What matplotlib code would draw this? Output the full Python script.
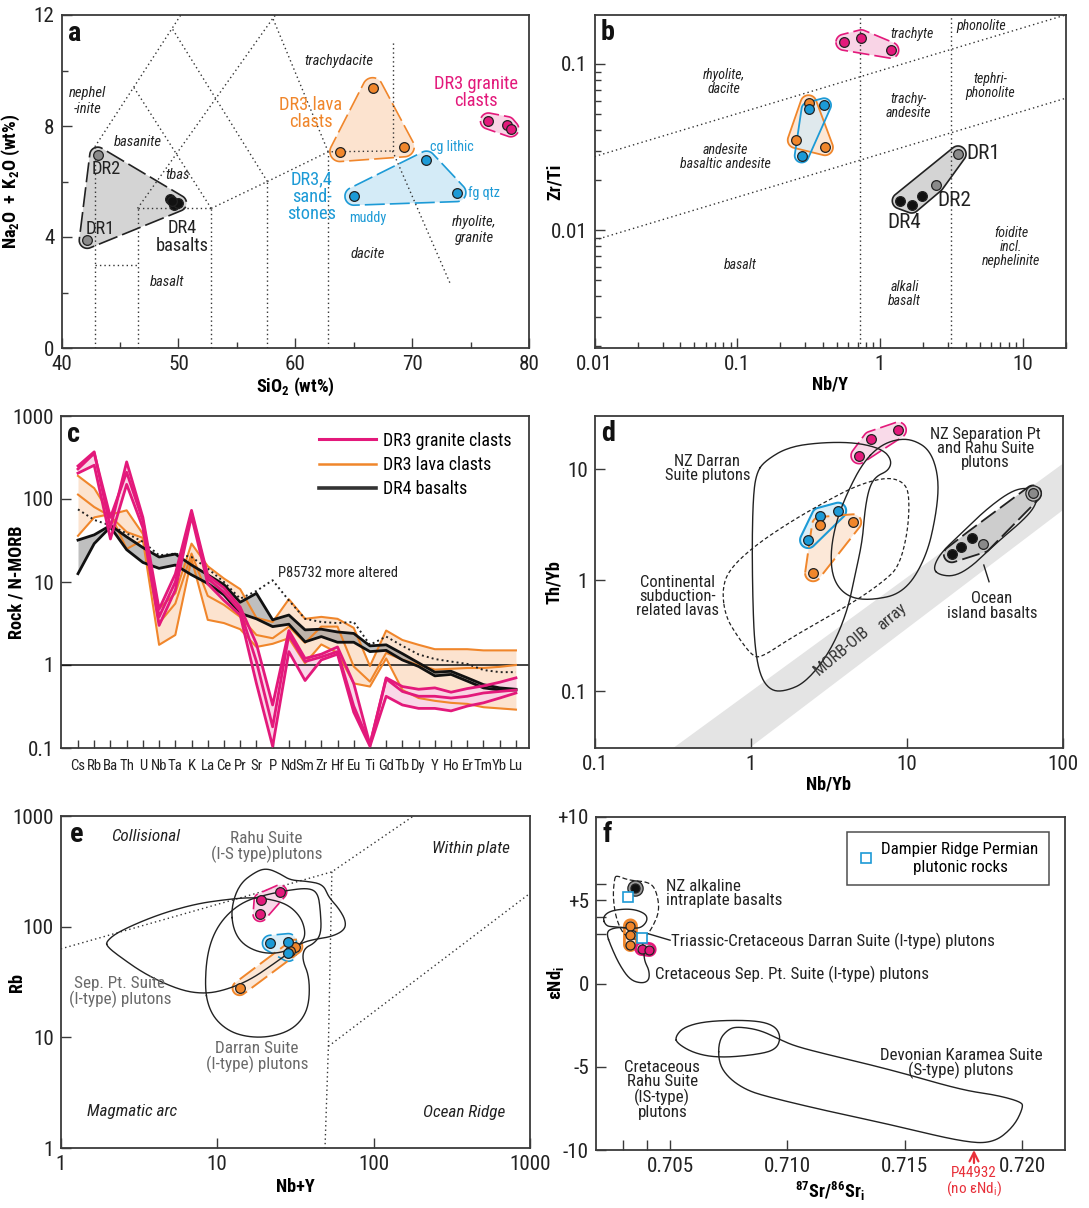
import numpy as np
import matplotlib
matplotlib.use("Agg")
import matplotlib.pyplot as plt
from matplotlib.patches import Polygon
from matplotlib.lines import Line2D
from matplotlib.ticker import LogLocator, NullFormatter, FixedLocator
from matplotlib import font_manager as fm
from matplotlib.textpath import TextPath

# ---------- font choice: prefer a narrow / condensed sans ----------
_names = {f.name for f in fm.fontManager.ttflist}
FAM, STRETCH = None, 'normal'
for cand in ['Liberation Sans Narrow', 'Roboto Condensed', 'Noto Sans Condensed',
             'Open Sans Condensed', 'Noto Sans SemiCondensed', 'Arial Narrow']:
    if cand in _names:
        FAM = cand
        break
if FAM is None:
    for fam in ['DejaVu Sans', 'Noto Sans', 'Roboto', 'Open Sans']:
        if any(f.name == fam and 'condensed' in str(f.stretch).lower() for f in fm.fontManager.ttflist):
            FAM, STRETCH = fam, 'condensed'
            break
if FAM is None:
    FAM = 'Roboto' if 'Roboto' in _names else 'Liberation Sans'

plt.rcParams['font.family'] = [FAM, 'DejaVu Sans']
plt.rcParams['font.stretch'] = STRETCH
plt.rcParams['mathtext.fontset'] = 'custom'
plt.rcParams['mathtext.rm'] = FAM
plt.rcParams['mathtext.bf'] = FAM + ':bold'
plt.rcParams['mathtext.it'] = FAM + ':italic'
plt.rcParams['axes.unicode_minus'] = False


def fit(s, px, weight='normal', style='normal'):
    fp = fm.FontProperties(family=[FAM, 'DejaVu Sans'], stretch=STRETCH, weight=weight,
                           style=style, size=10)
    w = TextPath((0, 0), s, prop=fp).get_extents().width
    return 10 * px / (w * 100 / 72)


S_TICK = fit('1000', 36) * 1.08
S_AXL = fit('Rock / N-MORB', 112, weight='bold')
S_LET = S_AXL * 1.55
S_IT = fit('trachydacite', 68, style='italic')
S_ABIG = fit('DR3 granite', 82)
S_ASM = fit('cg lithic', 43)
S_BIT = fit('basaltic andesite', 90, style='italic')
S_BDR = fit('DR1', 28.5)
S_LEG = fit('DR3 granite clasts', 126)
S_ANN = fit('P85732 more altered', 118)
S_ELEM = fit('Sm', 15) * 1.15
S_D = fit('Suite plutons', 84)
S_MORB = fit('MORB-OIB', 65)
S_EIT = fit('Collisional', 68, style='italic')
S_EGR = fit('Rahu Suite', 70)
S_F = fit('Triassic-Cretaceous Darran Suite (I-type) plutons', 321)
S_FLEG = fit('Dampier Ridge Permian', 155)
S_RED = fit('P44932', 44)

PINK = '#e3197b'
ORANGE = '#f0862b'
BLUE = '#1c9ad6'
GRAYF = '#d4d4d4'
RED = '#e8303a'
TXT = '#222222'

# ======================= DATA =======================
# ---- (a) TAS ----
a_dr1_sio2 = [42.2];  a_dr1_alk = [3.88]
a_dr2_sio2 = [43.1];  a_dr2_alk = [6.95]
a_dr4_sio2 = [49.3, 49.6, 50.0, 49.45]; a_dr4_alk = [5.38, 5.15, 5.22, 5.28]
a_lava_sio2 = [63.8, 66.6, 69.3]; a_lava_alk = [7.08, 9.38, 7.25]
a_gran_sio2 = [76.5, 78.1, 78.4]; a_gran_alk = [8.18, 8.05, 7.9]
a_sand_sio2 = [65.0, 71.2, 73.8]; a_sand_alk = [5.47, 6.77, 5.6]
tas_boundaries = [
    [(42.85, 0), (42.85, 7.25)],
    [(42.85, 3.0), (46.5, 3.0)],
    [(46.5, 0), (46.5, 5.03)],
    [(46.5, 5.03), (52.8, 5.03)],
    [(52.8, 0), (52.8, 5.03)],
    [(57.6, 0), (57.6, 6.0)],
    [(62.8, 0), (62.8, 7.07)],
    [(52.8, 5.03), (57.6, 6.0), (62.8, 7.07), (68.3, 7.1)],
    [(68.3, 7.1), (68.3, 11.05)],
    [(68.3, 7.1), (73.2, 2.35)],
    [(42.85, 7.25), (50.2, 12.0)],
    [(46.5, 5.03), (58.07, 11.88), (58.3, 12.0)],
    [(52.8, 5.03), (46.17, 9.4)],
    [(57.6, 6.0), (49.45, 11.52)],
    [(62.8, 7.07), (58.07, 11.88)],
]

# ---- (b) Zr/Ti vs Nb/Y ----
b_gran_nby = [0.56, 0.74, 1.19];  b_gran_zrti = [0.135, 0.1435, 0.121]
b_lava_nby = [0.316, 0.257, 0.412]; b_lava_zrti = [0.058, 0.0348, 0.0315]
b_sand_nby = [0.316, 0.406, 0.283]; b_sand_zrti = [0.0533, 0.0564, 0.0281]
b_dr4_nby = [1.39, 1.67, 1.97];   b_dr4_zrti = [0.0150, 0.01415, 0.0160]
b_dr12_nby = [3.53, 2.47];        b_dr12_zrti = [0.0287, 0.0188]
b_vert_nby = [0.72, 3.16]
b_diag_nby = [0.01, 20]
b_diag_upper = [0.0277, 0.197]
b_diag_lower = [0.0087, 0.0621]

# ---- (c) N-MORB normalised spider diagram ----
elements = ['Cs', 'Rb', 'Ba', 'Th', 'U', 'Nb', 'Ta', 'K', 'La', 'Ce', 'Pr', 'Sr', 'P', 'Nd',
            'Sm', 'Zr', 'Hf', 'Eu', 'Ti', 'Gd', 'Tb', 'Dy', 'Y', 'Ho', 'Er', 'Tm', 'Yb', 'Lu']
granite_1 = [250, 370, 45, 280, 60, 4.7, 12.5, 73, 12, 8.5, 5.0, 1.8, 0.33, 2.6, 1.2, 1.35, 1.65,
             0.6, 0.11, 0.7, 0.55, 0.51, 0.53, 0.47, 0.52, 0.56, 0.62, 0.7]
granite_2 = [230, 355, 60, 210, 55, 3.8, 10, 68, 11, 7.5, 4.5, 1.1, 0.18, 2.3, 1.1, 1.25, 1.45,
             0.32, 0.11, 0.68, 0.48, 0.42, 0.42, 0.40, 0.42, 0.46, 0.48, 0.5]
granite_3 = [205, 255, 33, 150, 45, 3.0, 8, 62, 9.5, 6.0, 4.0, 0.6, 0.105, 1.45, 0.65, 1.15, 1.35,
             0.27, 0.105, 0.42, 0.33, 0.3, 0.3, 0.28, 0.32, 0.35, 0.4, 0.46]
lava_1 = [190, 135, 65, 73, 38, 4.8, 7.3, 29, 15.5, 11, 8.2, 3.7, 3.3, 6.2, 3.6, 3.8, 3.6,
          2.8, 0.97, 2.6, 2.0, 1.75, 1.55, 1.55, 1.55, 1.5, 1.5, 1.5]
lava_2 = [113, 80, 62, 40, 34, 3.2, 5.5, 22, 6.8, 5.3, 3.8, 2.3, 2.1, 2.9, 1.85, 2.9, 2.9,
          0.96, 0.63, 1.4, 1.16, 1.0, 0.88, 0.9, 0.92, 0.92, 0.95, 1.0]
lava_3 = [36, 60, 66, 25, 32, 1.75, 2.3, 19, 3.5, 3.2, 2.7, 1.65, 1.8, 2.1, 1.05, 1.77, 1.4,
          0.6, 0.55, 1.2, 0.5, 0.4, 0.37, 0.35, 0.34, 0.31, 0.3, 0.29]
basalt_hi = [32, 37, 48, 35, 26, 20, 21.7, 16, 12.2, 9.3, 5.7, 7.3, 3.5, 4.0, 2.65, 2.7, 2.5,
             2.4, 1.7, 1.75, 1.37, 1.06, 0.82, 0.84, 0.7, 0.58, 0.53, 0.51]
basalt_lo = [12.6, 29, 46, 24.5, 17.2, 14.6, 16, 12.2, 9.6, 7.0, 4.2, 3.6, 2.9, 3.1, 1.9, 2.2, 1.88,
             1.88, 1.45, 1.5, 1.15, 0.96, 0.74, 0.77, 0.64, 0.53, 0.5, 0.5]
p85732 = [75, 56, 48, 38.5, 30.5, 21, 22, 20, 14.5, 10, 6.3, 7.8, 10.5, 6.0, 3.6, 3.3, 3.2,
          3.3, 1.75, 2.2, 1.7, 1.34, 1.18, 1.1, 1.03, 0.87, 0.82, 0.82]

# ---- (d) Th/Yb vs Nb/Yb ----
d_gran_nbyb = [4.94, 5.9, 8.8];   d_gran_thyb = [13.2, 18.5, 22.4]
d_sand_nbyb = [2.33, 2.77, 3.63]; d_sand_thyb = [2.30, 3.81, 4.22]
d_lava_nbyb = [2.78, 4.53, 2.51]; d_lava_thyb = [3.14, 3.32, 1.156]
d_dr4_nbyb = [19.4, 22.3, 26.3];  d_dr4_thyb = [1.71, 1.98, 2.38]
d_dr12_nbyb = [30.7, 64.4];       d_dr12_thyb = [2.10, 6.04]
array_nbyb = [0.319, 100, 100, 0.98]
array_thyb = [0.031, 11.2, 4.28, 0.031]
darran_d_nbyb = [1.21, 1.73, 2.88, 4.81, 7.06, 8.02, 7.62, 6.37, 5.75, 5.38, 5.2, 4.69, 4.13, 3.19,
                 2.23, 1.64, 1.34, 1.15, 1.06, 1.03, 1.02, 1.04, 1.09]
darran_d_thyb = [11.6, 15.8, 17.4, 17.3, 15.0, 11.9, 9.66, 8.65, 6.93, 4.29, 2.3, 1.16, 0.506, 0.221,
                 0.119, 0.1, 0.102, 0.136, 0.254, 0.665, 2.3, 6.04, 9.14]
seppt_d_nbyb = [5.2, 4.23, 3.54, 3.23, 3.37, 4.13, 5.75, 9.6, 13.4, 15.6, 16.0, 14.1, 10.9, 8.45, 6.55]
seppt_d_thyb = [11.2, 6.48, 3.48, 1.75, 1.0, 0.713, 0.656, 0.764, 1.63, 4.29, 8.53, 14.8, 18.5, 18.5, 15.8]
contl_d_nbyb = [0.655, 0.724, 1.04, 1.73, 2.88, 4.81, 7.62, 9.85, 10.4, 10.1, 8.89, 7.24, 4.81, 2.88,
                1.73, 1.15, 1.01, 0.824, 0.689]
contl_d_thyb = [0.818, 1.24, 2.0, 3.25, 4.92, 7.18, 8.53, 7.43, 5.27, 2.64, 1.33, 1.0, 0.665, 0.441,
                0.291, 0.199, 0.213, 0.312, 0.472]
oib_d_nbyb = [14.7, 16.4, 22.3, 31.9, 45.7, 57.5, 67.1, 68.1, 57.5, 37.2, 26.1, 20.1, 16.0]
oib_d_thyb = [1.28, 1.75, 2.64, 4.29, 6.25, 6.84, 6.25, 4.92, 3.6, 2.15, 1.33, 1.08, 1.12]
oib_leader_nbyb = [31.1, 33.6]; oib_leader_thyb = [1.37, 0.97]

# ---- (e) Rb vs Nb+Y ----
e_gran_nby = [19.1, 25.1, 18.8]; e_gran_rb = [174, 206, 129]
e_sand_nby = [21.9, 28.5, 28.5]; e_sand_rb = [70.8, 73.3, 57.5]
e_lava_nby = [13.9, 31.6, 29.0]; e_lava_rb = [27.8, 66, 60.8]
pearce_1_nby = [1, 54.1, 180];    pearce_1_rb = [63, 313, 1000]
pearce_2_nby = [54.1, 51.4, 48.9]; pearce_2_rb = [313, 8.3, 1]
pearce_3_nby = [51.4, 1000];       pearce_3_rb = [8.3, 200]
rahu_e_nby = [12.3, 13.9, 18.0, 21.0, 25.1, 29.3, 36.9, 47.6, 51.4, 60, 66.4, 65.4, 54.1, 41.9, 35.0,
              30.0, 23.3, 18.0, 14.3, 12.6]
rahu_e_rb = [151, 245, 320, 336, 302, 263, 258, 242, 186, 146, 113, 93.3, 81.3, 76.9, 71.8, 62.5,
             56.8, 59.2, 70.8, 96.6]
seppt_e_nby = [1.95, 2.33, 4.08, 7.17, 11.4, 16.3, 22.1, 28.6, 34.1, 36.5, 35.9, 31.6, 23.3, 16.3,
               11.4, 8.36, 5.84, 3.5, 2.33, 1.98]
seppt_e_rb = [73.3, 90.2, 127, 160, 176, 184, 177, 157, 123, 93.3, 75.9, 63.8, 46.8, 33.1, 26.9,
              24.7, 26.5, 36.7, 54.8, 66.1]
darran_e_nby = [8.36, 8.58, 9.5, 11.4, 14.7, 20.0, 28.6, 38.8, 44.1, 45.7, 46.4, 41.9, 35.9, 35.0,
                38.8, 38.8, 35.0, 28.6, 21.0, 15.5, 12.0, 9.75, 8.71]
darran_e_rb = [28.8, 53.7, 87.1, 127, 168, 193, 214, 224, 200, 141, 87.1, 70.8, 63.8, 50.1, 35.5,
               20.4, 14.4, 11.3, 10.0, 10.1, 11.3, 14.4, 19.7]

# ---- (f) eNd vs 87Sr/86Sr ----
f_dr4_sr = [0.70349];  f_dr4_nd = [5.76]
f_damp_sr = [0.70322, 0.70382]; f_damp_nd = [5.2, 2.76]
f_lava_sr = [0.70331, 0.70331, 0.70331]; f_lava_nd = [3.46, 2.9, 2.34]
f_gran_sr = [0.70379, 0.70411]; f_gran_nd = [2.1, 2.04]
alk_f_sr = [0.70271, 0.70322, 0.70411, 0.70441, 0.70456, 0.70426, 0.70396, 0.70367, 0.70308,
            0.70271, 0.70256, 0.70263]
alk_f_nd = [6.5, 6.2, 6.1, 5.6, 4.4, 3.4, 2.8, 2.6, 2.8, 3.8, 5.2, 6.3]
darran_f_sr = [0.70212, 0.70249, 0.70337, 0.70396, 0.70404, 0.70382, 0.70352, 0.70263, 0.70226]
darran_f_nd = [4.0, 4.4, 4.5, 4.2, 3.8, 3.4, 3.3, 3.4, 3.45]
seppt_f_sr = [0.70226, 0.70263, 0.70322, 0.70367, 0.70389, 0.70389, 0.70411, 0.70411, 0.70382,
              0.70330, 0.70285, 0.70249]
seppt_f_nd = [3.1, 3.36, 3.36, 3.0, 2.2, 1.4, 0.8, 0.2, 0.0, 0.2, 1.1, 2.2]
rahu_f_sr = [0.70522, 0.70559, 0.70663, 0.70855, 0.70944, 0.70973, 0.70951, 0.70855, 0.70707,
             0.70604, 0.7053]
rahu_f_nd = [-3.2, -2.6, -2.24, -2.2, -2.5, -3.2, -4.0, -4.3, -4.46, -4.2, -3.6]
karamea_f_sr = [0.70707, 0.70751, 0.70796, 0.70885, 0.70973, 0.71033, 0.71151, 0.71447, 0.71743,
                0.71891, 0.71994, 0.72006, 0.71965, 0.71876, 0.71743, 0.71447, 0.71151, 0.70914,
                0.70825, 0.70751, 0.70707]
karamea_f_nd = [-3.4, -2.7, -2.6, -2.8, -3.4, -3.76, -4.2, -5.2, -6.4, -6.7, -7.1, -7.4, -8.6, -9.6,
                -9.5, -8.5, -7.6, -6.8, -6.4, -5.7, -4.8]
darran_leader_sr = [0.70404, 0.70500]; darran_leader_nd = [3.0, 2.6]
p44932_sr = 0.71795

# ======================= HELPERS =======================
W, H = 1089, 1208
fig = plt.figure(figsize=(W / 100, H / 100), dpi=100)


def box(l, t, r, b):
    return [l / W, 1 - b / H, (r - l) / W, (b - t) / H]


def fmt_ax(ax):
    for s in ax.spines.values():
        s.set_linewidth(1.3)
        s.set_color('#3a3a3a')
    ax.tick_params(which='both', direction='in', labelsize=S_TICK, width=1.0, color='#3a3a3a',
                   labelcolor=TXT)
    ax.tick_params(which='major', length=7, pad=5)
    ax.tick_params(which='minor', length=4)


def letter(ax, s, x, y):
    ax.text(x, y, s, transform=ax.transAxes, fontsize=S_LET, fontweight='bold', ha='center',
            va='center', color='#111')


def convex(pts):
    pts = sorted(map(tuple, pts))

    def cross(o, a, b):
        return (a[0] - o[0]) * (b[1] - o[1]) - (a[1] - o[1]) * (b[0] - o[0])
    lower, upper = [], []
    for p in pts:
        while len(lower) >= 2 and cross(lower[-2], lower[-1], p) <= 0:
            lower.pop()
        lower.append(p)
    for p in reversed(pts):
        while len(upper) >= 2 and cross(upper[-2], upper[-1], p) <= 0:
            upper.pop()
        upper.append(p)
    return np.array(lower[:-1] + upper[:-1])


def hull(ax, xs, ys, r, fc, ec, ls=(0, (9, 3)), lw=1.2, alpha=None, z=2):
    P = ax.transData.transform(np.column_stack([xs, ys]))
    t = np.linspace(0, 2 * np.pi, 60, endpoint=False)
    circ = np.column_stack([np.cos(t), np.sin(t)]) * r
    cloud = (P[:, None, :] + circ[None, :, :]).reshape(-1, 2)
    D = ax.transData.inverted().transform(convex(cloud))
    ax.add_patch(Polygon(D, closed=True, fc=fc, ec='none', zorder=z, alpha=alpha))
    ax.add_patch(Polygon(D, closed=True, fill=False, ec=ec, ls=ls, lw=lw, zorder=z + 0.1))


def smooth(ax, xs, ys, ls='-', lw=0.9, color='#222', z=3):
    P = np.column_stack([xs, ys]).astype(float)
    lx, ly = ax.get_xscale() == 'log', ax.get_yscale() == 'log'
    if lx:
        P[:, 0] = np.log10(P[:, 0])
    if ly:
        P[:, 1] = np.log10(P[:, 1])
    M = (P + np.roll(P, -1, axis=0)) / 2
    pts = []
    prev = M[-1]
    for i in range(len(P)):
        c, p1 = P[i], M[i]
        for tt in np.linspace(0, 1, 12):
            pts.append((1 - tt) ** 2 * prev + 2 * (1 - tt) * tt * c + tt ** 2 * p1)
        prev = p1
    pts = np.array(pts)
    if lx:
        pts[:, 0] = 10 ** pts[:, 0]
    if ly:
        pts[:, 1] = 10 ** pts[:, 1]
    ax.plot(np.append(pts[:, 0], pts[0, 0]), np.append(pts[:, 1], pts[0, 1]), ls=ls, lw=lw,
            color=color, zorder=z)


def dots(ax, xs, ys, c, ms=7, z=5, mec='#222'):
    ax.plot(xs, ys, 'o', ms=ms, mfc=c, mec=mec, mew=0.9, zorder=z, ls='none')


DOT = dict(ls=(0, (1, 2.2)), lw=1.0, color='#333')

PINKF = (0.975, 0.83, 0.90)
ORANGEF = (0.99, 0.89, 0.81)
BLUEF = (0.83, 0.92, 0.97)

# ======================= (a) =======================
ax = fig.add_axes(box(61.5, 15, 529.4, 348))
ax.set_xlim(40, 80)
ax.set_ylim(0, 12)
fmt_ax(ax)
ax.set_xticks([40, 50, 60, 70, 80])
ax.set_xticks([45, 55, 65, 75], minor=True)
ax.set_yticks([0, 4, 8, 12])
ax.set_yticks([2, 6, 10], minor=True)
ax.set_xlabel(r'$\mathbf{SiO_2\ (wt\%)}$', fontsize=S_AXL, labelpad=1)
ax.set_ylabel(r'$\mathbf{Na_2O\ +\ K_2O\ (wt\%)}$', fontsize=S_AXL)
ax.yaxis.set_label_coords(-0.084, 0.5)
for seg in tas_boundaries:
    xs, ys = zip(*seg)
    ax.plot(xs, ys, zorder=3, **DOT)
hull(ax, a_dr1_sio2 + a_dr2_sio2 + a_dr4_sio2, a_dr1_alk + a_dr2_alk + a_dr4_alk, 8, GRAYF, '#222',
     ls=(0, (12, 3)))
hull(ax, a_lava_sio2, a_lava_alk, 10, ORANGEF, ORANGE, ls=(0, (12, 3)))
hull(ax, a_gran_sio2, a_gran_alk, 8, PINKF, PINK, ls=(0, (12, 3)))
hull(ax, a_sand_sio2, a_sand_alk, 9, BLUEF, BLUE, ls=(0, (12, 3)))
dots(ax, a_dr1_sio2 + a_dr2_sio2, a_dr1_alk + a_dr2_alk, '#8a8a8a')
dots(ax, a_dr4_sio2, a_dr4_alk, '#111')
dots(ax, a_lava_sio2, a_lava_alk, ORANGE)
dots(ax, a_gran_sio2, a_gran_alk, PINK)
dots(ax, a_sand_sio2, a_sand_alk, BLUE)
IT = dict(fontsize=S_IT, style='italic', color=TXT, ha='center', va='center', zorder=6)
ax.text(42.2, 8.9, 'nephel\n-inite', linespacing=1.15, **IT)
ax.text(46.5, 7.43, 'basanite', **IT)
ax.text(49.9, 6.25, 'tbas', **IT)
ax.text(49.0, 2.38, 'basalt', **IT)
ax.text(63.7, 10.35, 'trachydacite', **IT)
ax.text(66.2, 3.4, 'dacite', **IT)
ax.text(75.3, 4.25, 'rhyolite,\ngranite', linespacing=1.15, **IT)
RG = dict(fontsize=S_ABIG, ha='center', va='center', zorder=6, linespacing=0.95)
ax.text(43.8, 6.45, 'DR2', color=TXT, **RG)
ax.text(43.3, 4.3, 'DR1', color=TXT, **RG)
ax.text(50.3, 4.0, 'DR4\nbasalts', color=TXT, **RG)
ax.text(61.3, 8.45, 'DR3 lava\nclasts', color=ORANGE, **RG)
ax.text(75.4, 9.2, 'DR3 granite\nclasts', color=PINK, **RG)
ax.text(61.4, 5.45, 'DR3,4\nsand-\nstones', color=BLUE, **RG)
SM = dict(fontsize=S_ASM, ha='center', va='center', color=BLUE, zorder=6)
ax.text(73.4, 7.25, 'cg lithic', **SM)
ax.text(66.2, 4.67, 'muddy', **SM)
ax.text(76.1, 5.57, 'fg qtz', **SM)
letter(ax, 'a', 0.028, 0.945)

# ======================= (b) =======================
ax = fig.add_axes(box(594.6, 15, 1065.5, 348))
ax.set_xscale('log')
ax.set_yscale('log')
ax.set_xlim(0.01, 20)
ax.set_ylim(0.00195, 0.197)
fmt_ax(ax)
ax.set_xticks([0.01, 0.1, 1, 10])
ax.set_xticklabels(['0.01', '0.1', '1', '10'])
ax.set_yticks([0.01, 0.1])
ax.set_yticklabels(['0.01', '0.1'])
ax.xaxis.set_minor_locator(LogLocator(subs=np.arange(2, 10)))
ax.yaxis.set_minor_locator(LogLocator(subs=np.arange(2, 10)))
ax.xaxis.set_minor_formatter(NullFormatter())
ax.yaxis.set_minor_formatter(NullFormatter())
ax.set_xlabel('Nb/Y', fontsize=S_AXL, fontweight='bold', labelpad=1)
ax.set_ylabel('Zr/Ti', fontsize=S_AXL, fontweight='bold')
ax.yaxis.set_label_coords(-0.065, 0.5)
for v in b_vert_nby:
    ax.axvline(v, zorder=3, **DOT)
ax.plot(b_diag_nby, b_diag_upper, zorder=3, **DOT)
ax.plot(b_diag_nby, b_diag_lower, zorder=3, **DOT)
hull(ax, b_gran_nby, b_gran_zrti, 8, PINKF, PINK, ls=(0, (10, 3)))
hull(ax, b_lava_nby, b_lava_zrti, 8, ORANGEF + (0.85,), ORANGE, ls='-', lw=1.3)
hull(ax, b_sand_nby, b_sand_zrti, 7, BLUEF + (0.7,), BLUE, ls='-', lw=1.3)
hull(ax, b_dr4_nby + b_dr12_nby, b_dr4_zrti + b_dr12_zrti, 8, GRAYF, '#222', ls='-', lw=1.2)
dots(ax, b_gran_nby, b_gran_zrti, PINK)
dots(ax, b_lava_nby, b_lava_zrti, ORANGE)
dots(ax, b_sand_nby, b_sand_zrti, BLUE)
dots(ax, b_dr4_nby, b_dr4_zrti, '#111')
dots(ax, b_dr12_nby, b_dr12_zrti, '#8a8a8a')
ITb = dict(IT)
ITb['fontsize'] = S_BIT
ax.text(1.67, 0.151, 'trachyte', **ITb)
ax.text(5.1, 0.169, 'phonolite', **ITb)
ax.text(0.0801, 0.078, 'rhyolite,\ndacite', linespacing=1.0, **ITb)
ax.text(1.58, 0.0558, 'trachy-\nandesite', linespacing=1.0, **ITb)
ax.text(5.94, 0.0737, 'tephri-\nphonolite', linespacing=1.0, **ITb)
ax.text(0.0824, 0.0277, 'andesite\nbasaltic andesite', linespacing=1.0, **ITb)
ax.text(0.105, 0.00615, 'basalt', **ITb)
ax.text(1.49, 0.00415, 'alkali\nbasalt', linespacing=1.0, **ITb)
ax.text(8.3, 0.00787, 'foidite\nincl.\nnephelinite', linespacing=1.0, **ITb)
RGb = dict(RG)
RGb['fontsize'] = S_BDR
ax.text(5.3, 0.0287, 'DR1', color=TXT, **RGb)
ax.text(3.35, 0.0150, 'DR2', color=TXT, **RGb)
ax.text(1.47, 0.0111, 'DR4', color=TXT, **RGb)
letter(ax, 'b', 0.027, 0.946)

# ======================= (c) =======================
ax = fig.add_axes(box(60.8, 416, 529.4, 748))
ax.set_yscale('log')
ax.set_ylim(0.1, 1000)
ax.set_xlim(-1.06, 27.83)
fmt_ax(ax)
xi = np.arange(len(elements))
ax.set_xticks(xi)
ax.set_xticklabels(elements, fontsize=S_ELEM)
ax.tick_params(axis='x', which='major', pad=8, length=6)
ax.set_yticks([0.1, 1, 10, 100, 1000])
ax.set_yticklabels(['0.1', '1', '10', '100', '1000'])
ax.yaxis.set_minor_locator(FixedLocator([]))
ax.set_ylabel('Rock / N-MORB', fontsize=S_AXL, fontweight='bold')
ax.yaxis.set_label_coords(-0.076, 0.5)
ax.axhline(1, color='#111', lw=1.1, zorder=2)
G = np.array([granite_1, granite_2, granite_3])
L = np.array([lava_1, lava_2, lava_3])
B = np.array([basalt_hi, basalt_lo])
ax.fill_between(xi, L.min(0), L.max(0), color=ORANGEF, lw=0, zorder=1)
ax.fill_between(xi, G.min(0), G.max(0), color=PINKF, lw=0, zorder=1.2, alpha=0.9)
ax.fill_between(xi, B.min(0), B.max(0), color='#8c8c8c', lw=0, zorder=1.4, alpha=0.55)
for row in L:
    ax.plot(xi, row, color=ORANGE, lw=1.5, zorder=3)
for row in B:
    ax.plot(xi, row, color='#111', lw=2.0, zorder=3.5)
ax.plot(xi, p85732, color='#222', lw=1.4, ls=(0, (1, 1.6)), zorder=3.4)
for row in G:
    ax.plot(xi, row, color=PINK, lw=2.0, zorder=4)
ax.text(12.3, 12.7, 'P85732 more altered', fontsize=S_ANN, color=TXT, ha='left', va='center')
hl = [Line2D([], [], color=PINK, lw=2.2), Line2D([], [], color=ORANGE, lw=1.8),
      Line2D([], [], color='#333', lw=2.6)]
ax.legend(hl, ['DR3 granite clasts', 'DR3 lava clasts', 'DR4 basalts'], loc='upper right',
          bbox_to_anchor=(0.985, 0.985), frameon=False, fontsize=S_LEG, handlelength=3.2,
          labelspacing=0.35, handletextpad=0.4, borderaxespad=0.2)
letter(ax, 'c', 0.027, 0.943)

# ======================= (d) =======================
ax = fig.add_axes(box(594.6, 416, 1063, 748))
ax.set_xscale('log')
ax.set_yscale('log')
ax.set_xlim(0.1, 100)
ax.set_ylim(0.031, 30)
fmt_ax(ax)
ax.set_xticks([0.1, 1, 10, 100])
ax.set_xticklabels(['0.1', '1', '10', '100'])
ax.set_yticks([0.1, 1, 10])
ax.set_yticklabels(['0.1', '1', '10'])
ax.xaxis.set_minor_locator(FixedLocator([]))
ax.yaxis.set_minor_locator(FixedLocator([]))
ax.set_xlabel('Nb/Yb', fontsize=S_AXL, fontweight='bold', labelpad=1)
ax.set_ylabel('Th/Yb', fontsize=S_AXL, fontweight='bold')
ax.yaxis.set_label_coords(-0.068, 0.5)
ax.fill(array_nbyb, array_thyb, color='#e4e4e4', lw=0, zorder=0.5)
smooth(ax, darran_d_nbyb, darran_d_thyb, lw=1.0)
smooth(ax, seppt_d_nbyb, seppt_d_thyb, lw=1.0)
smooth(ax, contl_d_nbyb, contl_d_thyb, ls=(0, (3, 2)), lw=0.9)
smooth(ax, oib_d_nbyb, oib_d_thyb, lw=1.0)
ax.plot(oib_leader_nbyb, oib_leader_thyb, color='#222', lw=1.0)
hull(ax, d_gran_nbyb, d_gran_thyb, 8, PINKF + (0.85,), PINK, ls=(0, (10, 3)))
hull(ax, d_sand_nbyb, d_sand_thyb, 8, BLUEF + (0.8,), BLUE, ls='-', lw=1.5)
hull(ax, d_lava_nbyb, d_lava_thyb, 8, ORANGEF + (0.8,), ORANGE, ls=(0, (10, 3)), lw=1.4)
hull(ax, d_dr4_nbyb + d_dr12_nbyb, d_dr4_thyb + d_dr12_thyb, 8, '#cdcdcd', '#222',
     ls=(0, (10, 3)), lw=1.3)
dots(ax, d_gran_nbyb, d_gran_thyb, PINK)
dots(ax, d_sand_nbyb, d_sand_thyb, BLUE)
dots(ax, d_lava_nbyb, d_lava_thyb, ORANGE)
dots(ax, d_dr4_nbyb, d_dr4_thyb, '#111')
dots(ax, d_dr12_nbyb[1:], d_dr12_thyb[1:], '#bdbdbd', ms=11)
dots(ax, d_dr12_nbyb, d_dr12_thyb, '#8a8a8a')
RGd = dict(fontsize=S_D, ha='center', va='center', color=TXT, zorder=6, linespacing=0.95)
ax.text(0.527, 10.1, 'NZ Darran\nSuite plutons', **RGd)
ax.text(31.9, 15.3, 'NZ Separation Pt\nand Rahu Suite\nplutons', **RGd)
ax.text(0.341, 0.713, 'Continental\nsubduction-\nrelated lavas', **RGd)
ax.text(35, 0.587, 'Ocean\nisland basalts', **RGd)
ax.text(3.82, 0.229, 'MORB-OIB', fontsize=S_MORB, rotation=40, ha='center', va='center',
        color='#333')
ax.text(8.0, 0.472, 'array', fontsize=S_MORB, rotation=40, ha='center', va='center', color='#333')
letter(ax, 'd', 0.029, 0.946)

# ======================= (e) =======================
ax = fig.add_axes(box(60.8, 816, 530, 1148))
ax.set_xscale('log')
ax.set_yscale('log')
ax.set_xlim(1, 1000)
ax.set_ylim(1, 1000)
fmt_ax(ax)
ax.set_xticks([1, 10, 100, 1000])
ax.set_xticklabels(['1', '10', '100', '1000'])
ax.set_yticks([1, 10, 100, 1000])
ax.set_yticklabels(['1', '10', '100', '1000'])
ax.xaxis.set_minor_locator(FixedLocator([]))
ax.yaxis.set_minor_locator(FixedLocator([]))
ax.set_xlabel('Nb+Y', fontsize=S_AXL, fontweight='bold', labelpad=3)
ax.set_ylabel('Rb', fontsize=S_AXL, fontweight='bold')
ax.yaxis.set_label_coords(-0.074, 0.5)
ax.plot(pearce_1_nby, pearce_1_rb, zorder=2, **DOT)
ax.plot(pearce_2_nby, pearce_2_rb, zorder=2, **DOT)
ax.plot(pearce_3_nby, pearce_3_rb, zorder=2, **DOT)
smooth(ax, rahu_e_nby, rahu_e_rb, lw=1.0)
smooth(ax, seppt_e_nby, seppt_e_rb, lw=1.0)
smooth(ax, darran_e_nby, darran_e_rb, lw=1.0)
hull(ax, e_gran_nby, e_gran_rb, 7, PINKF + (0.9,), PINK, ls=(0, (10, 3)))
hull(ax, e_sand_nby, e_sand_rb, 8, BLUEF + (0.85,), BLUE, ls=(0, (10, 3)))
hull(ax, e_lava_nby, e_lava_rb, 7, ORANGEF + (0.85,), ORANGE, ls=(0, (10, 3)), lw=1.4)
dots(ax, e_gran_nby, e_gran_rb, PINK)
dots(ax, e_lava_nby, e_lava_rb, ORANGE)
dots(ax, e_sand_nby, e_sand_rb, BLUE)
ITe = dict(fontsize=S_EIT, style='italic', color=TXT, ha='center', va='center')
ax.text(3.47, 656, 'Collisional', **ITe)
ax.text(419, 508, 'Within plate', **ITe)
ax.text(2.85, 2.15, 'Magmatic arc', **ITe)
ax.text(378, 2.11, 'Ocean Ridge', **ITe)
GR = dict(fontsize=S_EGR, color='#6a6a6a', ha='center', va='center', linespacing=0.95)
ax.text(20.7, 526, 'Rahu Suite\n(I-S type)plutons', **GR)
ax.text(2.39, 25.6, 'Sep. Pt. Suite\n(I-type) plutons', **GR)
ax.text(18, 6.65, 'Darran Suite\n(I-type) plutons', **GR)
letter(ax, 'e', 0.034, 0.943)

# ======================= (f) =======================
ax = fig.add_axes(box(595.7, 817, 1064.8, 1150))
ax.set_xlim(0.70183, 0.72182)
ax.set_ylim(-10, 10)
fmt_ax(ax)
ax.set_xticks([0.705, 0.710, 0.715, 0.720])
ax.set_xticklabels(['0.705', '0.710', '0.715', '0.720'])
ax.set_xticks([0.703, 0.704], minor=True)
ax.set_yticks([-10, -5, 0, 5, 10])
ax.set_yticklabels(['-10', '-5', '0', '+5', '+10'])
ax.set_yticks([3, 4, 6], minor=True)
ax.tick_params(which='minor', length=7)
ax.set_xlabel(r'$^{\mathbf{87}}\mathbf{Sr/}^{\mathbf{86}}\mathbf{Sr}_{\mathbf{i}}$', fontsize=S_AXL,
              labelpad=3)
ax.set_ylabel('ε' + r'$\mathbf{Nd}_{\mathbf{i}}$', fontsize=S_AXL, fontweight='bold')
ax.yaxis.set_label_coords(-0.064, 0.5)
smooth(ax, alk_f_sr, alk_f_nd, ls=(0, (4, 2)), lw=0.9)
smooth(ax, darran_f_sr, darran_f_nd, lw=1.0)
smooth(ax, seppt_f_sr, seppt_f_nd, lw=1.0)
smooth(ax, rahu_f_sr, rahu_f_nd, lw=1.0)
smooth(ax, karamea_f_sr, karamea_f_nd, lw=1.0)
ax.plot(darran_leader_sr, darran_leader_nd, color='#222', lw=1.0)
hull(ax, f_lava_sr, f_lava_nd, 6, ORANGEF, ORANGE, ls='-', lw=2.0)
hull(ax, f_gran_sr, f_gran_nd, 6, PINKF, PINK, ls='-', lw=2.0)
dots(ax, f_lava_sr, f_lava_nd, ORANGE, ms=6.5)
dots(ax, f_gran_sr, f_gran_nd, PINK, ms=6.5)
dots(ax, f_dr4_sr, f_dr4_nd, '#9a9a9a', ms=11)
dots(ax, f_dr4_sr, f_dr4_nd, '#111', ms=6.5)
ax.plot(f_damp_sr, f_damp_nd, 's', ms=7, mfc='white', mec=BLUE, mew=1.2, ls='none', zorder=6)
FT = dict(fontsize=S_F, color=TXT, va='center', linespacing=0.95)
ax.text(0.70482, 5.4, 'NZ alkaline\nintraplate basalts', ha='left', **FT)
ax.text(0.70503, 2.56, 'Triassic-Cretaceous Darran Suite (I-type) plutons', ha='left', **FT)
ax.text(0.70436, 0.55, 'Cretaceous Sep. Pt. Suite (I-type) plutons', ha='left', **FT)
ax.text(0.70467, -6.4, 'Cretaceous\nRahu Suite\n(IS-type)\nplutons', ha='center', **FT)
ax.text(0.71740, -4.8, 'Devonian Karamea Suite\n(S-type) plutons', ha='center', **FT)
ax.annotate('P44932\n(no εNd$_\\mathregular{i}$)', xy=(p44932_sr, -10), xytext=(p44932_sr, -10.95),
            ha='center', va='top', fontsize=S_RED, color=RED, linespacing=0.95,
            annotation_clip=False,
            arrowprops=dict(arrowstyle='->', color=RED, lw=1.6, shrinkA=0, shrinkB=0,
                            mutation_scale=16))
lh = [Line2D([], [], ls='none', marker='s', ms=7, mfc='white', mec=BLUE, mew=1.2)]
leg = ax.legend(lh, ['Dampier Ridge Permian\nplutonic rocks'], loc='upper right',
                bbox_to_anchor=(0.966, 0.955), frameon=True, fancybox=False, fontsize=S_FLEG,
                borderaxespad=0, handletextpad=0.4, borderpad=0.6, handlelength=1.0)
leg.get_frame().set_edgecolor('#222')
leg.get_frame().set_linewidth(1.1)
for t in leg.get_texts():
    t.set_multialignment('center')
letter(ax, 'f', 0.024, 0.946)

fig.savefig('out.png', dpi=100)
